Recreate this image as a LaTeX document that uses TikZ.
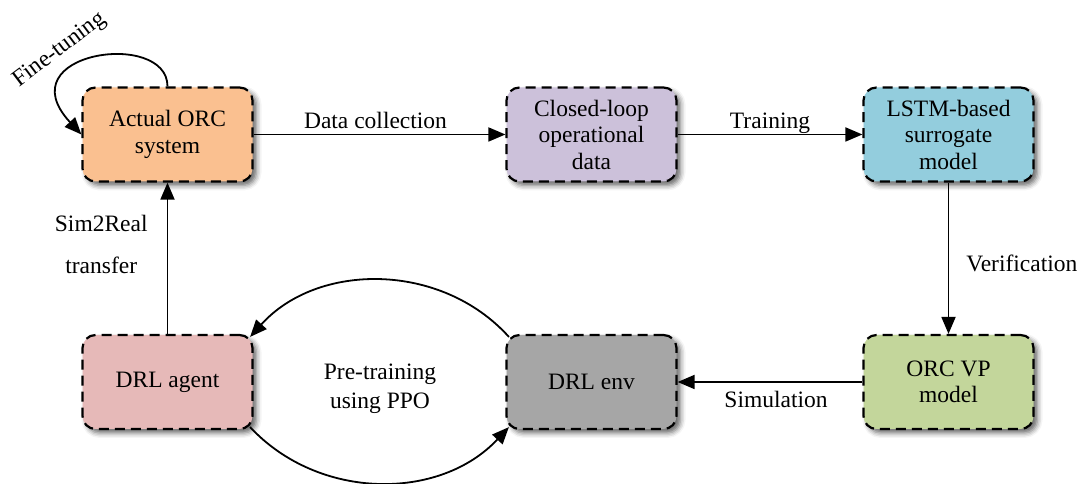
\documentclass[tikz,border=0pt]{standalone}
\usepackage{fontspec}
\setmainfont{Liberation Serif}
\usetikzlibrary{arrows.meta,calc,shadows.blur}

\definecolor{orcfill}{HTML}{FAC090}
\definecolor{datafill}{HTML}{CCC1DA}
\definecolor{lstmfill}{HTML}{93CDDD}
\definecolor{vpfill}{HTML}{C3D69B}
\definecolor{agentfill}{HTML}{E6B9B8}
\definecolor{envfill}{HTML}{A6A6A6}

\begin{document}
\begin{tikzpicture}[x=1pt,y=1pt,
  box/.style={draw=black, line width=2.2pt, dash pattern=on 10pt off 6pt,
    rounded corners=13pt, minimum width=170pt, minimum height=94pt,
    align=center, font=\fontsize{23.5}{26.5}\selectfont, inner sep=0pt,
    blur shadow={shadow xshift=4pt, shadow yshift=-4pt,
      shadow blur radius=5pt, shadow opacity=60}},
  conn/.style={line width=1.8pt, -{Triangle[length=17pt,width=14pt]}},
  lbl/.style={font=\fontsize{23.5}{27}\selectfont, inner sep=0pt,
    text height=16pt, text depth=0pt}
]
\useasboundingbox (0,0) rectangle (1084,484);

% process boxes
\node[box, fill=orcfill]   (orc)   at (167.5,349.5) {Actual ORC\\system};
\node[box, fill=datafill]  (data)  at (591.5,349.5) {Closed-loop\\operational\\data};
\node[box, fill=lstmfill]  (lstm)  at (948.5,349.5) {LSTM-based\\surrogate\\model};
\node[box, fill=vpfill]    (vp)    at (948.5,102)   {ORC VP\\model};
\node[box, fill=envfill]   (env)   at (591.5,102)   {DRL env};
\node[box, fill=agentfill] (agent) at (167.5,102)   {DRL agent};

% straight connectors
\draw[conn] (orc) -- node[lbl, above=5pt, xshift=-4pt] {Data collection} (data);
\draw[conn] (data) -- node[lbl, above=5pt] {Training} (lstm);
\draw[conn] (lstm) -- node[lbl, right=17pt, yshift=-5pt] {Verification} (vp);
\draw[conn] (vp) -- node[lbl, below=9pt, xshift=6pt] {Simulation} (env);
\draw[conn] (agent) -- node[lbl, left=19pt, yshift=-7pt, align=center,
  font=\fontsize{23.5}{42}\selectfont] {Sim2Real\\transfer} (orc);

% fine-tuning self loop
\draw[conn] (orc.north) .. controls (167.5,455) and (5,432) .. (orc.west);
\node[lbl, rotate=37] (ft) at (58,436) {Fine-tuning};

% pre-training cycle between agent and environment
\coordinate (envtop) at ($(env.north west)+(3.5,-3)$);
\coordinate (agenttop) at ($(agent.north east)+(-3.5,-3)$);
\coordinate (agentbot) at ($(agent.south east)+(-3.5,3)$);
\coordinate (envbot) at ($(env.south west)+(3.5,3)$);
\draw[conn] (envtop) to[bend right=48] (agenttop);
\draw[conn] (agentbot) to[bend right=47] (envbot);
\node[align=center, inner sep=0pt, font=\fontsize{23.5}{28.5}\selectfont]
  (ppo) at (380,95) {Pre-training\\using PPO};
\end{tikzpicture}
\end{document}
